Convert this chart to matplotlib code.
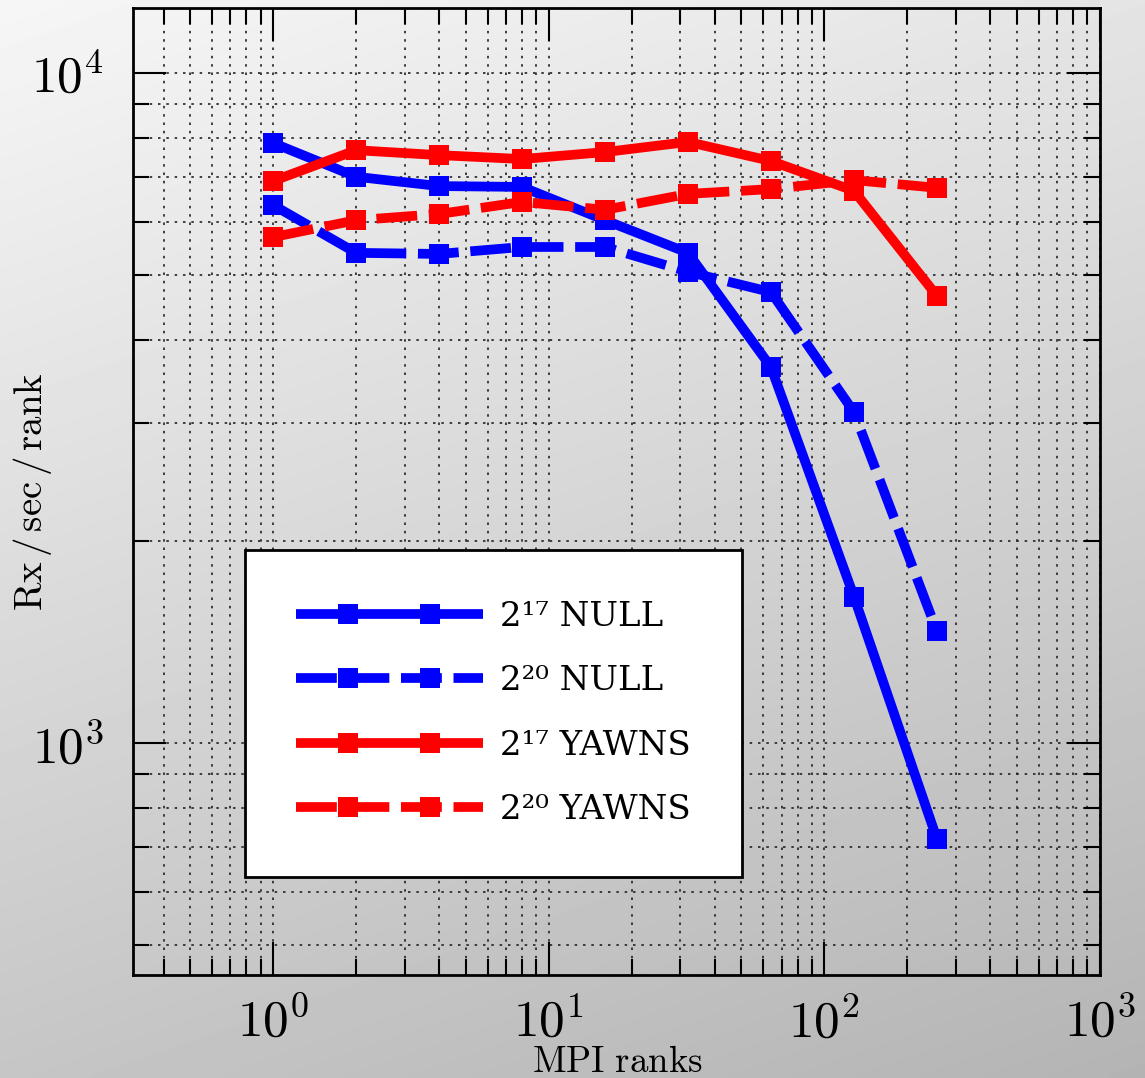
import numpy as np
import matplotlib
matplotlib.use('Agg')
import matplotlib.pyplot as plt
from matplotlib.lines import Line2D
from matplotlib.ticker import LogLocator, NullFormatter, FuncFormatter
from matplotlib.legend_handler import HandlerLine2D

plt.rcParams['mathtext.fontset'] = 'cm'

# -------------------------------
# Data
# -------------------------------
ranks = [1, 2, 4, 8, 16, 32, 64, 128, 256]

null17 = [7860, 7000, 6780, 6760, 6030, 5390, 3640, 1655, 720]
null20 = [6350, 5390, 5370, 5500, 5500, 5050, 4710, 3120, 1470]
yawns17 = [6900, 7670, 7540, 7440, 7620, 7890, 7390, 6670, 4650]
yawns20 = [5690, 6030, 6160, 6420, 6250, 6600, 6710, 6920, 6740]

labels = ['2¹⁷ NULL', '2²⁰ NULL', '2¹⁷ YAWNS', '2²⁰ YAWNS']

XLIM = (0.31, 1000)
YLIM = (451, 12500)

LW = 7
MS = 14
DASH = (4.2, 1.2)


# legend handle: full-width line, two markers inside
class TwoMarkerHandler(HandlerLine2D):
    def create_artists(self, legend, orig_handle, xdescent, ydescent,
                       width, height, fontsize, trans):
        x0 = -xdescent
        xdata = np.array([x0, x0 + 0.28 * width, x0 + 0.715 * width, x0 + width])
        ydata = np.full_like(xdata, (height - ydescent) / 2)
        legline = Line2D(xdata, ydata)
        self.update_prop(legline, orig_handle, legend)
        legline.set_markevery([1, 2])
        legline.set_transform(trans)
        return [legline]


# -------------------------------
# Figure + background gradient
# -------------------------------
fig = plt.figure(figsize=(11.45, 10.78), dpi=100)

bg = fig.add_axes([0, 0, 1, 1], zorder=-10)
gx, gy = np.meshgrid(np.linspace(0, 1, 200), np.linspace(0, 1, 200))
grad = 0.965 - 0.07 * gx - 0.19 * gy
bg.imshow(grad, cmap='gray', vmin=0, vmax=1, aspect='auto',
          extent=[0, 1, 0, 1], origin='upper', interpolation='bilinear')
bg.set_axis_off()

ax = fig.add_axes([133 / 1145, 1 - 975 / 1078, 967 / 1145, 967 / 1078])
ax.set_facecolor('none')

series = [
    (null17, 'blue', '-'),
    (null20, 'blue', '--'),
    (yawns17, 'red', '-'),
    (yawns20, 'red', '--'),
]

for (vals, col, ls), lab in zip(series, labels):
    line, = ax.plot(ranks, vals, color=col, lw=LW, marker='s', ms=MS,
                    mec=col, mew=0, label=lab, ls=ls,
                    solid_capstyle='butt', dash_capstyle='butt')
    if ls == '--':
        line.set_dashes(DASH)

ax.set_xscale('log')
ax.set_yscale('log')
ax.set_xlim(*XLIM)
ax.set_ylim(*YLIM)

for axis in (ax.xaxis, ax.yaxis):
    axis.set_major_locator(LogLocator(base=10, numticks=20))
    axis.set_minor_locator(LogLocator(base=10, subs=np.arange(2, 10), numticks=50))
    axis.set_minor_formatter(NullFormatter())
    axis.set_major_formatter(FuncFormatter(lambda v, p: r'$10^{%d}$' % round(np.log10(v))))

ax.tick_params(which='both', direction='in', top=True, right=True, width=1.5,
               labelsize=37, color='black')
ax.tick_params(which='major', length=24)
ax.tick_params(which='minor', length=11.5)
ax.tick_params(axis='y', which='major', pad=21)
ax.tick_params(axis='x', which='major', pad=16)

for sp in ax.spines.values():
    sp.set_linewidth(2)

ax.grid(True, which='both', ls=(0, (1.5, 3.5)), color='#222222', lw=1.2)
ax.set_axisbelow(True)

ax.set_xlabel(r'$\mathrm{MPI\ ranks}$', fontsize=26.5)
ax.set_ylabel(r'$\mathrm{Rx\,/\,sec\,/\,rank}$', fontsize=28)
ax.xaxis.set_label_coords(0.501, -0.0705)
ax.yaxis.set_label_coords(-0.082, 0.5)

leg = ax.legend(loc='lower left', bbox_to_anchor=(0.1158, 0.1013),
                frameon=True, fancybox=False, framealpha=1, edgecolor='black',
                handlelength=5.5, handletextpad=0.5, labelspacing=0.95,
                borderpad=1.5, borderaxespad=0,
                prop={'family': ['DejaVu Serif'], 'size': 24.5},
                handler_map={Line2D: TwoMarkerHandler()})
leg.get_frame().set_linewidth(2)

plt.savefig('out.png', dpi=100)
